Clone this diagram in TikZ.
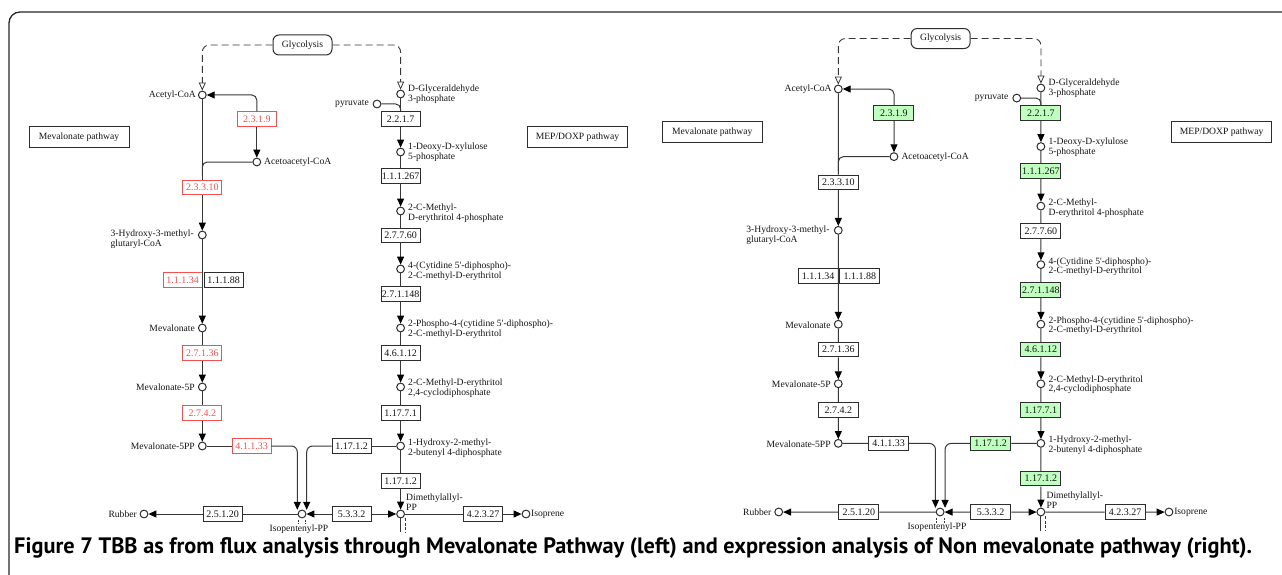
\documentclass[tikz,border=0pt]{standalone}
\usepackage{fontspec}
\setmainfont{Liberation Serif}
\newfontfamily\keggfont{Liberation Serif}
\newfontfamily\capfont{PT Sans}
\usetikzlibrary{arrows.meta,calc}
\definecolor{linec}{RGB}{55,55,55}
\definecolor{boxc}{RGB}{45,45,45}
\definecolor{txtc}{RGB}{20,20,20}
\definecolor{redc}{RGB}{245,80,80}
\definecolor{greenc}{RGB}{191,255,191}
\newcommand{\lblfont}{\keggfont\fontsize{9.6}{9.8}\selectfont}
\newcommand{\ecfont}{\keggfont\fontsize{10}{10}\selectfont}
\newcommand{\ecw}{39pt}
\newcommand{\keggpanel}{%
 % pathway boxes
 \node[pw] (mvpw) at (79,137.5) {Mevalonate pathway};
 \node[pw] (meppw) at (577.5,137.5) {MEP/DOXP pathway};
 \node[glyc] (glyc) at (302.5,45) {Glycolysis};
 % compounds
 \node[cpd] (acoa) at (202.3,95) {};
 \node[cpd] (acac) at (256.8,162) {};
 \node[cpd] (hmg) at (202.3,235) {};
 \node[cpd] (mev) at (202.3,328) {};
 \node[cpd] (mev5p) at (202.3,387) {};
 \node[cpd] (mev5pp) at (202.3,446) {};
 \node[cpd] (ipp) at (302,514) {};
 \node[cpd] (rub) at (144,514) {};
 \node[cpd] (gap) at (400.6,94) {};
 \node[cpd] (pyr) at (377,104) {};
 \node[cpd] (dxp) at (400.6,152) {};
 \node[cpd] (mep) at (400.6,211) {};
 \node[cpd] (cdpme) at (400.6,269) {};
 \node[cpd] (cdpmep) at (400.6,328) {};
 \node[cpd] (mecpp) at (400.6,387) {};
 \node[cpd] (hmbpp) at (400.6,446) {};
 \node[cpd] (dmapp) at (400.6,514) {};
 \node[cpd] (isop) at (526,514) {};
 \coordinate (ippa) at ($(ipp)+(-4.7,-4.2)$);
 \coordinate (ippb) at ($(ipp)+(4.7,-4.2)$);
 % enzymes
 \node[ec,ecA] (e2319) at (256.8,119) {2.3.1.9};
 \node[ec,ecL] (e23310) at (202.3,187.5) {2.3.3.10};
 \node[ec,ecL] (e11134) at (182.5,280) {1.1.1.34};
 \node[ec] (e11188) at (223.5,280) {1.1.1.88};
 \node[ec,ecL] (e27136) at (202.3,353) {2.7.1.36};
 \node[ec,ecL] (e2742) at (202.3,413) {2.7.4.2};
 \node[ec,ecL] (e41133) at (251.5,446) {4.1.1.33};
 \node[ec,ecR] (e11712a) at (351.5,446) {1.17.1.2};
 \node[ec] (e25120) at (222.5,514) {2.5.1.20};
 \node[ec] (e5332) at (351.5,514) {5.3.3.2};
 \node[ec] (e42327) at (483,514) {4.2.3.27};
 \node[ec,ecR] (e2217) at (400.6,119) {2.2.1.7};
 \node[ec,ecR] (e11267) at (400.6,176) {1.1.1.267};
 \node[ec] (e27760) at (400.6,235.5) {2.7.7.60};
 \node[ec,ecR] (e271148) at (400.6,294) {2.7.1.148};
 \node[ec,ecR] (e46112) at (400.6,353) {4.6.1.12};
 \node[ec,ecR] (e11771) at (400.6,413) {1.17.7.1};
 \node[ec,ecR] (e11712b) at (400.6,481) {1.17.1.2};
 % glycolysis links
 \draw[dsh,garr,rounded corners=7pt] (glyc) -| (acoa);
 \draw[dsh,garr,rounded corners=7pt] (glyc) -| (gap);
 % mevalonate branch
 \draw[ln,arr,rounded corners=5pt] (e2319) |- (acoa);
 \draw[ln,arr] (e2319) -- (acac);
 \draw[ln,rounded corners=5pt] (acac) -- (acac -| acoa) -- ($(acac -| acoa)+(0,14)$);
 \draw[ln] (acoa) -- (e23310);
 \draw[ln,arr] (e23310) -- (hmg);
 \draw[ln,arr] (hmg) -- (mev);
 \draw[ln] (mev) -- (e27136);
 \draw[ln,arr] (e27136) -- (mev5p);
 \draw[ln] (mev5p) -- (e2742);
 \draw[ln,arr] (e2742) -- (mev5pp);
 \draw[ln] (mev5pp) -- (e41133);
 \draw[ln,arr,rounded corners=6pt] (e41133) -| (ippa);
 \draw[ln] (hmbpp) -- (e11712a);
 \draw[ln,arr,rounded corners=6pt] (e11712a) -| (ippb);
 \draw[ln,arr] (e5332) -- (ipp);
 \draw[ln,arr] (e5332) -- (dmapp);
 \draw[ln] (ipp) -- (e25120);
 \draw[ln,arr] (e25120) -- (rub);
 \draw[ln] (dmapp) -- (e42327);
 \draw[ln,arr] (e42327) -- (isop);
 % MEP column
 \draw[ln] (gap) -- (e2217);
 \draw[ln,rounded corners=5pt] (pyr) -| (e2217.north);
 \draw[ln,arr] (e2217) -- (dxp);
 \draw[ln] (dxp) -- (e11267);
 \draw[ln,arr] (e11267) -- (mep);
 \draw[ln] (mep) -- (e27760);
 \draw[ln,arr] (e27760) -- (cdpme);
 \draw[ln] (cdpme) -- (e271148);
 \draw[ln,arr] (e271148) -- (cdpmep);
 \draw[ln] (cdpmep) -- (e46112);
 \draw[ln,arr] (e46112) -- (mecpp);
 \draw[ln] (mecpp) -- (e11771);
 \draw[ln,arr] (e11771) -- (hmbpp);
 \draw[ln] (hmbpp) -- (e11712b);
 \draw[ln,arr] (e11712b) -- (dmapp);
 % stubs
 \draw[ln,line width=0.7pt,dash pattern=on 2pt off 1.5pt] ($(ipp.south)+(-3.6,1.5)$) -- ++(0,4.5);
 \draw[ln,line width=0.7pt,dash pattern=on 2pt off 1.5pt] ($(ipp.south)+(3.6,1.5)$) -- ++(0,4.5);
 \draw[ln] (dmapp.south) -- ++(0,14);
 \draw[ln,line width=0.8pt,dash pattern=on 3pt off 1.5pt] ($(dmapp.south)+(4.4,0)$) -- ++(0,14);
 % labels
 \node[lbl,anchor=east] (tacoa) at (196,95) {Acetyl-CoA};
 \node[lbl,anchor=west] (tacac) at (264,162.5) {Acetoacetyl-CoA};
 \node[lbl,anchor=east] (thmg) at (194,239.5) {3-Hydroxy-3-methyl-\\glutaryl-CoA};
 \node[lbl,anchor=east] (tmev) at (195,328.5) {Mevalonate};
 \node[lbl,anchor=east] (tmev5p) at (195,387.5) {Mevalonate-5P};
 \node[lbl,anchor=east] (tmev5pp) at (195,446.5) {Mevalonate-5PP};
 \node[lbl,anchor=east] (trub) at (137,514.5) {Rubber};
 \node[lbl] (tipp) at (299,529.5) {Isopentenyl-PP};
 \node[lbl,anchor=west] (tdmapp) at (406,502.5) {Dimethylallyl-\\PP};
 \node[lbl,anchor=west] (tisop) at (531,514.5) {Isoprene};
 \node[lbl,anchor=east] (tpyr) at (369,104) {pyruvate};
 \node[lbl,anchor=west] (tgap) at (408,94) {D-Glyceraldehyde\\3-phosphate};
 \node[lbl,anchor=west] (tdxp) at (408,152.5) {1-Deoxy-D-xylulose\\5-phosphate};
 \node[lbl,anchor=west] (tmep) at (408,213) {2-C-Methyl-\\D-erythritol 4-phosphate};
 \node[lbl,anchor=west] (tcdpme) at (408,271) {4-(Cytidine 5'-diphospho)-\\2-C-methyl-D-erythritol};
 \node[lbl,anchor=west] (tcdpmep) at (408,329.5) {2-Phospho-4-(cytidine 5'-diphospho)-\\2-C-methyl-D-erythritol};
 \node[lbl,anchor=west] (tmecpp) at (408,388) {2-C-Methyl-D-erythritol\\2,4-cyclodiphosphate};
 \node[lbl,anchor=west] (thmbpp) at (408,448) {1-Hydroxy-2-methyl-\\2-butenyl 4-diphosphate};
}
\begin{document}
\begin{tikzpicture}[x=1pt,y=-1pt,
  ln/.style={draw=linec,line width=1pt},
  dsh/.style={draw=linec,line width=0.9pt,dash pattern=on 7pt off 4pt},
  arr/.style={-{Triangle[length=8pt,width=7pt,color=black]}},
  garr/.style={-{Triangle[open,length=8pt,width=7pt,line width=0.8pt]}},
  cpd/.style={circle,draw=boxc,fill=white,line width=1pt,minimum size=7.8pt,inner sep=0pt},
  ec/.style={rectangle,draw=boxc,fill=white,line width=1pt,minimum width=\ecw,minimum height=14.5pt,inner sep=0pt,font=\ecfont,text=txtc},
  ecred/.style={draw=redc,text=redc,line width=0.9pt},
  ecgreen/.style={fill=greenc},
  pw/.style={rectangle,draw=boxc,fill=white,line width=1pt,minimum width=100pt,minimum height=21pt,inner sep=0pt,font=\lblfont,text=txtc},
  glyc/.style={rectangle,rounded corners=6pt,draw=boxc,fill=white,line width=1pt,minimum width=59pt,minimum height=20pt,inner sep=0pt,font=\lblfont,text=txtc},
  lbl/.style={inner sep=0pt,font=\lblfont,text=txtc,align=left}]
\useasboundingbox (0,0) rectangle (1282,575);
\draw[line width=1.3pt,draw=black!85,rounded corners=11pt] (1300,12) -- (9,12) -- (9,600);
\begin{scope}[name prefix=L-, ecA/.style={ecred}, ecL/.style={ecred}, ecR/.style={}]
 \keggpanel
\end{scope}
\renewcommand{\ecw}{40pt}
\begin{scope}[name prefix=R-, shift={(631.6,-6.9)}, xscale=1.0216, yscale=1.0095, ecA/.style={ecgreen}, ecL/.style={}, ecR/.style={ecgreen}]
 \keggpanel
\end{scope}
\node[anchor=base west,inner sep=0pt] (cap) at (14,553) {\resizebox{1238pt}{!}{\capfont\bfseries\fontsize{18}{20}\selectfont Figure 7 TBB as from flux analysis through Mevalonate Pathway (left) and expression analysis of Non mevalonate pathway (right).}};
\end{tikzpicture}
\end{document}
